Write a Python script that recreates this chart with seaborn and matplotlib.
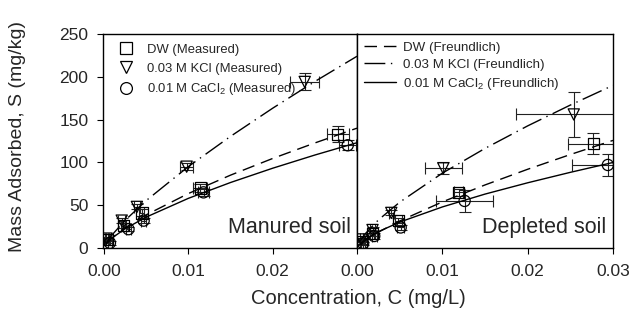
import matplotlib
matplotlib.use("Agg")
import matplotlib.pyplot as plt
from matplotlib.lines import Line2D
import seaborn as sns
import pandas as pd

# ---------------- data ----------------
# Manured soil measured points
man_dw_c   = [0.0004, 0.0023, 0.0045, 0.0114, 0.0277]
man_dw_s   = [10, 26, 41, 70, 133]
man_dw_cx  = [0.0002, 0.0003, 0.0003, 0.0008, 0.0013]
man_dw_sy  = [2, 3, 4, 5, 9]

man_kcl_c  = [0.0003, 0.0021, 0.0039, 0.0098, 0.0238]
man_kcl_s  = [11, 32, 48, 95, 194]
man_kcl_cx = [0.0002, 0.0004, 0.0004, 0.0008, 0.0017]
man_kcl_sy = [2, 3, 3, 4, 10]

man_ca_c   = [0.0007, 0.0029, 0.0047, 0.0118, 0.0289]
man_ca_s   = [6, 22, 32, 65, 120]
man_ca_cx  = [0.0002, 0.0003, 0.0003, 0.0006, 0.0010]
man_ca_sy  = [2, 2, 3, 4, 6]

# Depleted soil measured points
dep_dw_c   = [0.0005, 0.0018, 0.0048, 0.0119, 0.0277]
dep_dw_s   = [7, 17, 32, 65, 122]
dep_dw_cx  = [0.0002, 0.0003, 0.0004, 0.0005, 0.0030]
dep_dw_sy  = [2, 3, 3, 4, 12]

dep_kcl_c  = [0.0005, 0.0018, 0.0040, 0.0101, 0.0254]
dep_kcl_s  = [10, 21, 41, 93, 156]
dep_kcl_cx = [0.0002, 0.0003, 0.0003, 0.0022, 0.0068]
dep_kcl_sy = [2, 3, 3, 7, 26]

dep_ca_c   = [0.0007, 0.0020, 0.0051, 0.0126, 0.0294]
dep_ca_s   = [5.5, 14, 24, 55, 97]
dep_ca_cx  = [0.0002, 0.0003, 0.0004, 0.0033, 0.0042]
dep_ca_sy  = [2, 3, 3, 13, 13]

# Freundlich curves
curve_c     = [0.0003, 0.001, 0.0025, 0.005, 0.01, 0.015, 0.02, 0.025, 0.03]
man_dw_fit  = [5.2, 12.2, 23.6, 38.7, 63.6, 85.1, 104.6, 122.7, 140.0]
man_kcl_fit = [6.2, 15.8, 32.3, 55.4, 95.1, 130.4, 163.3, 194.5, 224.0]
man_ca_fit  = [5.3, 12.0, 22.5, 36.1, 58.0, 76.5, 93.2, 108.6, 123.0]
dep_dw_fit  = [3.6, 9.2, 18.6, 31.6, 53.9, 73.7, 92.0, 109.2, 125.7]
dep_kcl_fit = [7.4, 17.2, 32.9, 53.6, 87.5, 116.4, 142.7, 167.0, 190.0]
dep_ca_fit  = [4.7, 10.4, 19.1, 30.3, 48.0, 63.0, 76.2, 88.4, 99.9]

labels_meas = ["DW (Measured)", "0.03 M KCl (Measured)", "0.01 M CaCl$_\\mathregular{2}$ (Measured)"]
labels_fit = ["DW (Freundlich)", "0.03 M KCl (Freundlich)", "0.01 M CaCl$_\\mathregular{2}$ (Freundlich)"]
x_ticks_left = [0.00, 0.01, 0.02]
x_ticks_right = [0.00, 0.01, 0.02, 0.03]
y_ticks = [0, 50, 100, 150, 200, 250]

# ---------------- style ----------------
sns.set_style("ticks")
plt.rcParams['font.family'] = ['Liberation Sans', 'DejaVu Sans']
plt.rcParams['mathtext.fontset'] = 'custom'
plt.rcParams['mathtext.rm'] = 'Liberation Sans'
plt.rcParams['axes.linewidth'] = 1.0
plt.rcParams['xtick.direction'] = 'out'
plt.rcParams['ytick.direction'] = 'out'

W, H = 633, 327
fig = plt.figure(figsize=(W / 100, H / 100), dpi=100)
bottom = (H - 248) / H
height = (248 - 34) / H
ax1 = fig.add_axes([103 / W, bottom, (357 - 103) / W, height])
ax2 = fig.add_axes([357 / W, bottom, (613 - 357) / W, height])

markers = ['s', 'v', 'o']
dash_styles = [(0, (9, 5)), (0, (15, 4, 1, 4)), '-']

def draw_panel(ax, pts, fits):
    for (c, s, cx, sy), mk in zip(pts, markers):
        ax.errorbar(c, s, xerr=cx, yerr=sy, fmt='none', ecolor='#222222',
                    elinewidth=0.8, capsize=4, capthick=0.8, zorder=2)
        df = pd.DataFrame({"c": c, "s": s})
        sns.scatterplot(data=df, x="c", y="s", ax=ax, marker=mk, s=65,
                        facecolor='none', edgecolor='black', linewidth=0.9,
                        zorder=3, legend=False)
    for fit, ls in zip(fits, dash_styles):
        df = pd.DataFrame({"c": curve_c, "s": fit})
        sns.lineplot(data=df, x="c", y="s", ax=ax, color='black',
                     linewidth=1.0, linestyle=ls, zorder=2, legend=False)
    ax.set_ylim(0, 250)
    ax.set_xlabel("")
    ax.set_ylabel("")
    ax.tick_params(labelsize=12.5, length=4.5, width=0.8, color='black')
    ax.tick_params(axis='x', pad=7)
    ax.tick_params(axis='y', pad=6)

draw_panel(ax1,
           [(man_dw_c, man_dw_s, man_dw_cx, man_dw_sy),
            (man_kcl_c, man_kcl_s, man_kcl_cx, man_kcl_sy),
            (man_ca_c, man_ca_s, man_ca_cx, man_ca_sy)],
           [man_dw_fit, man_kcl_fit, man_ca_fit])
draw_panel(ax2,
           [(dep_dw_c, dep_dw_s, dep_dw_cx, dep_dw_sy),
            (dep_kcl_c, dep_kcl_s, dep_kcl_cx, dep_kcl_sy),
            (dep_ca_c, dep_ca_s, dep_ca_cx, dep_ca_sy)],
           [dep_dw_fit, dep_kcl_fit, dep_ca_fit])

ax1.set_xlim(-0.00012, 0.03)
ax2.set_xlim(-0.00002, 0.03)
ax1.set_xticks(x_ticks_left)
ax1.set_xticklabels([f"{v:.2f}" for v in x_ticks_left])
ax2.set_xticks(x_ticks_right)
ax2.set_xticklabels([f"{v:.2f}" for v in x_ticks_right])
ax1.set_yticks(y_ticks)
ax2.set_yticks([])
ax2.tick_params(axis='y', left=False, labelleft=False)

for ax in (ax1, ax2):
    for sp in ax.spines.values():
        sp.set_visible(True)
        sp.set_color('black')

ax1.text(0.975, 0.045, "Manured soil", transform=ax1.transAxes, ha='right',
         va='bottom', fontsize=15.5)
ax2.text(0.975, 0.045, "Depleted soil", transform=ax2.transAxes, ha='right',
         va='bottom', fontsize=15.5)

h_meas = [Line2D([], [], marker=m, linestyle='none', markerfacecolor='none',
                 markeredgecolor='black', markersize=8.5, markeredgewidth=0.9)
          for m in markers]
ax1.legend(h_meas, labels_meas, loc='upper left', frameon=False, fontsize=9.4,
           handletextpad=0.6, borderaxespad=0.35, labelspacing=0.5,
           bbox_to_anchor=(0.0, 1.0))
h_fit = [Line2D([], [], color='black', linestyle=ls, linewidth=1.0)
         for ls in dash_styles]
ax2.legend(h_fit, labels_fit, loc='upper left', frameon=False, fontsize=9.6,
           handlelength=2.4, handletextpad=0.5, borderaxespad=0.15,
           labelspacing=0.38, bbox_to_anchor=(0.0, 1.0))

fig.text(358 / W, 1 - 298 / H, "Concentration, C (mg/L)", ha='center',
         va='center', fontsize=14.5)
fig.text(18 / W, 1 - 137 / H, "Mass Adsorbed, S (mg/kg)", ha='center',
         va='center', rotation=90, fontsize=14)

fig.savefig("out.png", dpi=100)
